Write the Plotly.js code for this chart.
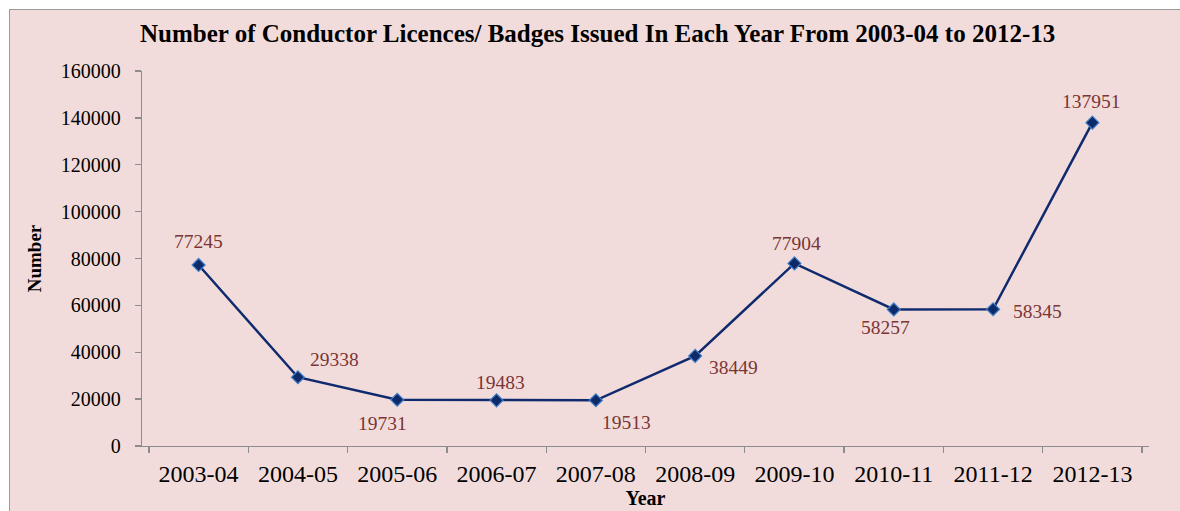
<!DOCTYPE html>
<html>
<head>
<meta charset="utf-8">
<script src="https://cdn.plot.ly/plotly-3.0.1.min.js"></script>
<style>
  html, body { margin:0; padding:0; background:#ffffff; width:1180px; height:511px; overflow:hidden; }
  #frame { position:absolute; left:9px; top:9px; width:1180px; height:510px; border:1px solid #9a9a9a; background:#F2DCDB; }
  #chart { position:absolute; left:0; top:0; width:1180px; height:510px; }
</style>
</head>
<body>
<div id="frame"><div id="chart"></div></div>
<script>
const years = ["2003-04","2004-05","2005-06","2006-07","2007-08","2008-09","2009-10","2010-11","2011-12","2012-13"];
const counts = [77245, 29338, 19731, 19483, 19513, 38449, 77904, 58257, 58345, 137951];
const yTicks = [0, 20000, 40000, 60000, 80000, 100000, 120000, 140000, 160000];
// label offsets (px) per point: [xshift, yshift]
const labelOffsets = [[0,23],[37,18],[-15,-24],[4,18],[31,-22],[38,-12],[2,20],[-8,-18],[44,-2],[-1,21]];

const serif = "Liberation Serif, Times New Roman, serif";

const annotations = years.map((y, i) => ({
  x: y, y: counts[i], xref: 'x', yref: 'y',
  text: String(counts[i]), showarrow: false,
  xshift: labelOffsets[i][0], yshift: labelOffsets[i][1],
  font: {family: serif, size: 19.5, color: '#7A3535'}
}));

const trace = {
  x: years, y: counts, type: 'scatter', mode: 'lines+markers',
  line: {color: '#102A6E', width: 2.5},
  marker: {symbol: 'diamond', size: 10, color: '#0E2A68', line: {color: '#3F7FC8', width: 1.2}},
  cliponaxis: false, hoverinfo: 'skip'
};

const layout = {
  width: 1180, height: 510,
  paper_bgcolor: 'rgba(0,0,0,0)', plot_bgcolor: 'rgba(0,0,0,0)',
  margin: {l: 132, r: 41, t: 61, b: 74},
  showlegend: false,
  title: {text: 'Number of Conductor Licences/ Badges Issued In Each Year From 2003-04 to 2012-13',
          font: {family: serif, size: 25, color: '#000000', weight: 'bold'},
          x: 0.498, xanchor: 'center', y: 0.955, yanchor: 'middle'},
  xaxis: {
    type: 'category', categoryorder: 'array', categoryarray: years,
    showline: true, linecolor: '#8c8c8c', linewidth: 1.3,
    ticks: 'outside', tickson: 'boundaries', ticklen: 6, tickcolor: '#8c8c8c', tickwidth: 1.3,
    ticklabelstandoff: 6,
    showgrid: false, zeroline: false,
    tickfont: {family: serif, size: 24, color: '#000000'},
    title: {text: 'Year', font: {family: serif, size: 20, color: '#000000', weight: 'bold'}, standoff: 0}
  },
  yaxis: {
    range: [0, 160000], tickvals: yTicks, ticktext: yTicks.map(String),
    showline: true, linecolor: '#8c8c8c', linewidth: 1.3,
    ticks: 'outside', ticklen: 6, tickcolor: '#8c8c8c', tickwidth: 1.3,
    ticklabelstandoff: 10,
    showgrid: false, zeroline: false,
    tickfont: {family: serif, size: 20, color: '#000000'},
    title: {text: 'Number', font: {family: serif, size: 19, color: '#000000', weight: 'bold'}, standoff: 14}
  },
  annotations: annotations
};

Plotly.newPlot('chart', [trace], layout, {staticPlot: true, displayModeBar: false});
</script>
</body>
</html>
